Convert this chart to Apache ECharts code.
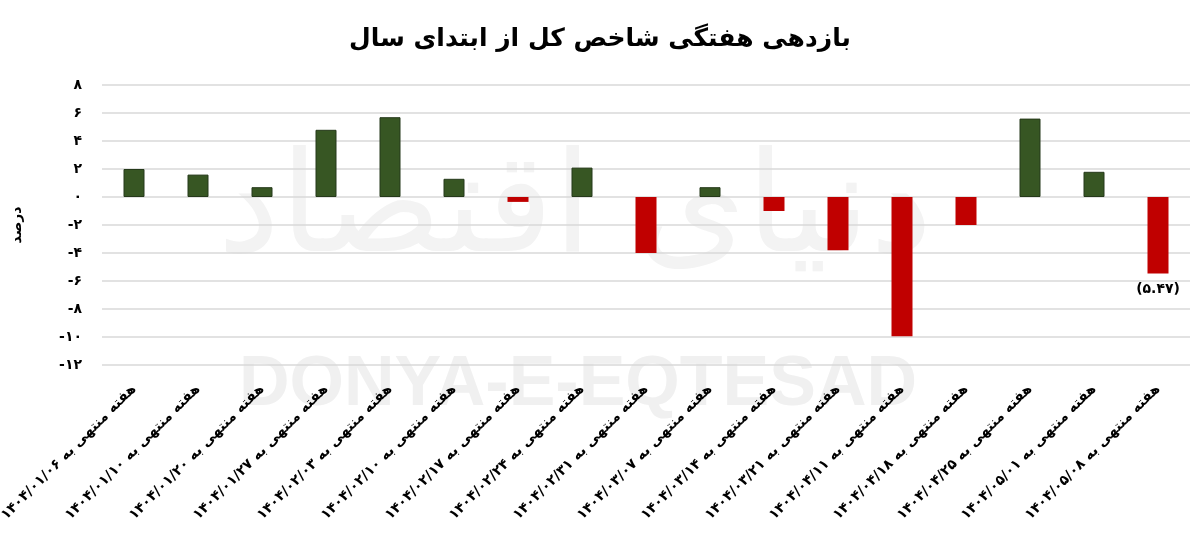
<!DOCTYPE html>
<html>
<head>
<meta charset="utf-8">
<script src="https://cdn.jsdelivr.net/npm/echarts@6/dist/echarts.min.js"></script>
<style>
html,body{margin:0;padding:0;background:#fff;}
#chart{width:1200px;height:559px;}
</style>
</head>
<body>
<div id="chart"></div>
<script>
const titleText = 'بازدهی هفتگی شاخص کل از ابتدای سال';
const labelPrefix = 'هفته منتهی به ';
const dates = [
  '۱۴۰۴/۰۱/۰۶', '۱۴۰۴/۰۱/۱۰', '۱۴۰۴/۰۱/۲۰', '۱۴۰۴/۰۱/۲۷', '۱۴۰۴/۰۲/۰۳',
  '۱۴۰۴/۰۲/۱۰', '۱۴۰۴/۰۲/۱۷', '۱۴۰۴/۰۲/۲۴', '۱۴۰۴/۰۲/۳۱', '۱۴۰۴/۰۳/۰۷',
  '۱۴۰۴/۰۳/۱۴', '۱۴۰۴/۰۳/۲۱', '۱۴۰۴/۰۴/۱۱', '۱۴۰۴/۰۴/۱۸', '۱۴۰۴/۰۴/۲۵',
  '۱۴۰۴/۰۵/۰۱', '۱۴۰۴/۰۵/۰۸'
];
const returns = [2.0, 1.6, 0.7, 4.8, 5.7, 1.3, -0.35, 2.1, -4.0, 0.7, -1.0, -3.8, -9.95, -2.0, 5.6, 1.8, -5.47];
const labelledIndex = [16];
const yAxisName = 'درصد';
const watermarkEn = 'DONYA-E-EQTESAD';
const watermarkFa = 'دنیای اقتصاد';

const fa = s => String(s).replace(/\d/g, d => '۰۱۲۳۴۵۶۷۸۹'[d]);
const categories = dates.map(d => labelPrefix + d);
const FONT = 'DejaVu Sans';

const seriesData = returns.map((v, i) => {
  const item = {
    value: v,
    itemStyle: v >= 0
      ? { color: '#375623', borderColor: '#25391a', borderWidth: 1 }
      : { color: '#c00000', borderWidth: 0 }
  };
  if (labelledIndex.includes(i)) {
    item.label = {
      show: true,
      position: 'bottom',
      distance: 9,
      formatter: p => '(' + fa(Math.abs(p.value).toFixed(2)) + ')',
      fontFamily: FONT,
      fontSize: 14,
      fontWeight: 'bold',
      color: '#000'
    };
  }
  return item;
});

const chart = echarts.init(document.getElementById('chart'), null, { renderer: 'canvas' });
chart.setOption({
  backgroundColor: '#fff',
  animation: false,
  title: {
    text: titleText,
    left: 'center',
    top: 22,
    textStyle: { fontFamily: FONT, fontSize: 25, fontWeight: 'bold', color: '#000' }
  },
  graphic: [
    {
      type: 'text', z: -1, x: 575, y: 215,
      style: { text: watermarkFa, font: '140px "DejaVu Sans"', fill: '#f3f3f3', align: 'center', verticalAlign: 'middle' }
    },
    {
      type: 'text', z: -1, x: 578, y: 386,
      style: { text: watermarkEn, font: 'bold 70px "Liberation Sans"', fill: '#f0f0f0', align: 'center', verticalAlign: 'middle' }
    }
  ],
  grid: { left: 102, right: 10, top: 85, bottom: 194, containLabel: false, outerBoundsMode: 'none' },
  xAxis: {
    type: 'category',
    data: categories,
    axisLine: { show: false },
    axisTick: { show: false },
    axisLabel: {
      interval: 0,
      rotate: 45,
      margin: 22,
      fontFamily: FONT,
      fontSize: 14,
      fontWeight: 'bold',
      color: '#000'
    }
  },
  yAxis: {
    type: 'value',
    min: -12,
    max: 8,
    interval: 2,
    name: yAxisName,
    nameLocation: 'middle',
    nameGap: 78,
    nameTextStyle: { fontFamily: FONT, fontSize: 14, fontWeight: 'bold', color: '#000' },
    axisLine: { show: false },
    axisTick: { show: false },
    splitLine: { lineStyle: { color: '#d9d9d9', width: 1.5 } },
    axisLabel: {
      margin: 20,
      fontFamily: FONT,
      fontSize: 14,
      fontWeight: 'bold',
      color: '#000',
      formatter: v => (v < 0 ? '-' + fa(-v) : fa(v))
    }
  },
  series: [{
    type: 'bar',
    barWidth: 21,
    data: seriesData
  }]
});
</script>
</body>
</html>
